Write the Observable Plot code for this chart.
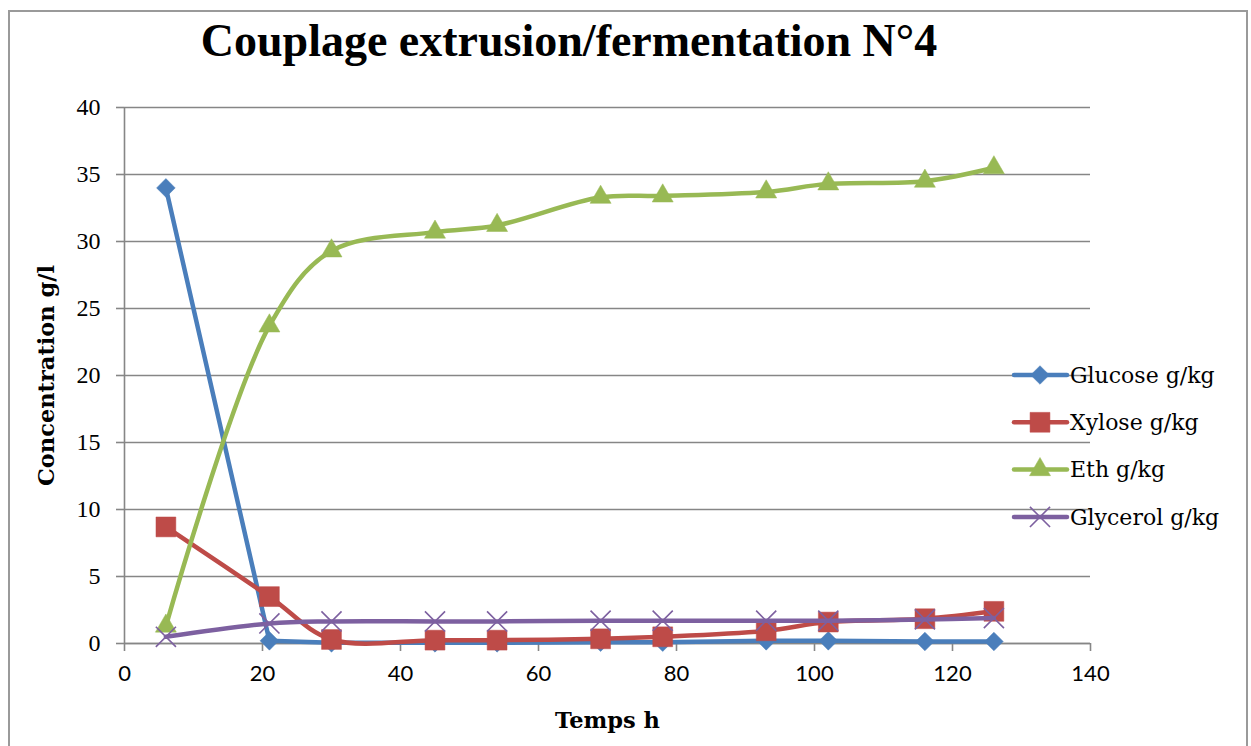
<!DOCTYPE html>
<html>
<head>
<meta charset="utf-8">
<script src="https://cdn.jsdelivr.net/npm/d3@7"></script>
<script src="https://cdn.jsdelivr.net/npm/@observablehq/plot@0.6"></script>
<style>
  html, body { margin: 0; padding: 0; background: #fff; }
  #wrap { position: relative; width: 1251px; height: 746px; overflow: hidden; }
  #frame { position: absolute; left: 8px; top: 10px; width: 1240px; height: 800px; border: 2px solid #9a9a9a; box-sizing: border-box; }
  #title { position: absolute; left: 0; top: 14px; width: 1138px; text-align: center; font-family: "Liberation Serif", serif; font-weight: bold; font-size: 46px; color: #000; }
  #chart { position: absolute; left: 0; top: 0; }
  #legend { position: absolute; left: 1005px; top: 350px; }
  g[aria-label="x-axis tick label"] { font-family: Lato, sans-serif; font-size: 22px; }
  g[aria-label="y-axis tick label"] { font-family: "Liberation Serif", serif; font-size: 24px; }
  g[aria-label="x-axis label"], g[aria-label="y-axis label"] { font-family: "DejaVu Serif", serif; font-weight: bold; font-size: 22.5px; }
</style>
</head>
<body>
<div id="wrap">
  <div id="frame"></div>
  <div id="title">Couplage extrusion/fermentation N°4</div>
  <div id="chart"></div>
  <svg id="legend" width="240" height="190"></svg>
</div>
<script>
// ---- data ----
const times    = [6, 21, 30, 45, 54, 69, 78, 93, 102, 116, 126];
const glucose  = [34.0, 0.2, 0.05, 0.05, 0.05, 0.1, 0.1, 0.2, 0.2, 0.15, 0.15];
const xylose   = [8.7, 3.5, 0.3, 0.25, 0.25, 0.35, 0.5, 0.95, 1.6, 1.85, 2.4];
const ethanol  = [1.3, 23.7, 29.3, 30.7, 31.2, 33.3, 33.4, 33.7, 34.3, 34.5, 35.5];
const glycerol = [0.5, 1.5, 1.65, 1.65, 1.65, 1.7, 1.7, 1.7, 1.7, 1.8, 1.9];

const seriesNames  = ["Glucose g/kg", "Xylose g/kg", "Eth g/kg", "Glycerol g/kg"];
const seriesValues = [glucose, xylose, ethanol, glycerol];
const seriesColors = ["#4a7ebb", "#be4b48", "#98b954", "#7d60a0"];
const seriesSymbols = ["diamond2", "square", "triangle", "times"];
const seriesCurves = ["linear", "catmull-rom", "catmull-rom", "catmull-rom"];
const symbolR = [8.4, 11.2, 7.8, 9.2];

const xTicks = [0, 20, 40, 60, 80, 100, 120, 140];
const yTicks = [0, 5, 10, 15, 20, 25, 30, 35, 40];

const titleText = "Couplage extrusion/fermentation N°4";
const xLabel = "Temps h";
const yLabel = "Concentration g/l";

// ---- build table ----
const rows = [];
seriesNames.forEach((name, i) => {
  times.forEach((t, j) => rows.push({series: name, idx: i, t, v: seriesValues[i][j]}));
});

const seriesMarks = seriesNames.flatMap((name, i) => {
  const d = rows.filter(r => r.series === name);
  const isStroke = seriesSymbols[i] === "times";
  return [
    Plot.line(d, {x: "t", y: "v", stroke: seriesColors[i], strokeWidth: 4.5, curve: seriesCurves[i], strokeLinecap: "round", strokeLinejoin: "round"}),
    Plot.dot(d, {x: "t", y: "v", symbol: () => seriesSymbols[i], r: symbolR[i],
      fill: isStroke ? "none" : seriesColors[i],
      stroke: seriesColors[i], strokeWidth: isStroke ? 1.6 : 0.5})
  ];
});

const chart = Plot.plot({
  width: 1251,
  height: 746,
  marginLeft: 124,
  marginRight: 161,
  marginTop: 107,
  marginBottom: 103,
  style: {fontFamily: "Liberation Serif, serif", color: "#000", background: "transparent", overflow: "visible"},
  x: {domain: [0, 140]},
  y: {domain: [0, 40]},
  symbol: {type: "identity"},
  marks: [
    Plot.gridY(yTicks, {stroke: "#868686", strokeOpacity: 1, strokeWidth: 1.6}),
    Plot.ruleX([0], {stroke: "#868686", strokeWidth: 1.6}),
    Plot.ruleY([0], {stroke: "#868686", strokeWidth: 1.6}),
    Plot.axisY(yTicks, {tickSize: 8, tickPadding: 16, stroke: "#868686", strokeWidth: 1.6, fill: "#000",
      label: yLabel, labelAnchor: "center", labelArrow: "none", labelOffset: 86}),
    Plot.axisX(xTicks, {tickSize: 8, tickPadding: 14, stroke: "#868686", strokeWidth: 1.6, fill: "#000",
      label: xLabel, labelAnchor: "center", labelArrow: "none", labelOffset: 84}),
    ...seriesMarks
  ]
});
document.getElementById("chart").appendChild(chart);
document.getElementById("title").textContent = titleText;

// ---- legend ----
const lg = d3.select("#legend");
const symMap = {diamond2: d3.symbolDiamond2, square: d3.symbolSquare, triangle: d3.symbolTriangle, times: d3.symbolTimes};
seriesNames.forEach((name, i) => {
  const cy = 25 + i * 47.3;
  const g = lg.append("g").attr("transform", `translate(0,${cy})`);
  g.append("line").attr("x1", 9).attr("x2", 62).attr("y1", 0).attr("y2", 0)
    .attr("stroke", seriesColors[i]).attr("stroke-width", 4.5).attr("stroke-linecap", "round");
  const isStroke = seriesSymbols[i] === "times";
  g.append("path").attr("transform", "translate(35,0)")
    .attr("d", d3.symbol(symMap[seriesSymbols[i]], Math.PI * symbolR[i] * symbolR[i])())
    .attr("fill", isStroke ? "none" : seriesColors[i])
    .attr("stroke", seriesColors[i]).attr("stroke-width", isStroke ? 1.6 : 0.5);
  g.append("text").attr("x", 65).attr("y", 0).attr("dy", "0.35em")
    .attr("font-family", "DejaVu Serif, serif").attr("font-size", 22).attr("fill", "#000")
    .text(name);
});
</script>
</body>
</html>
